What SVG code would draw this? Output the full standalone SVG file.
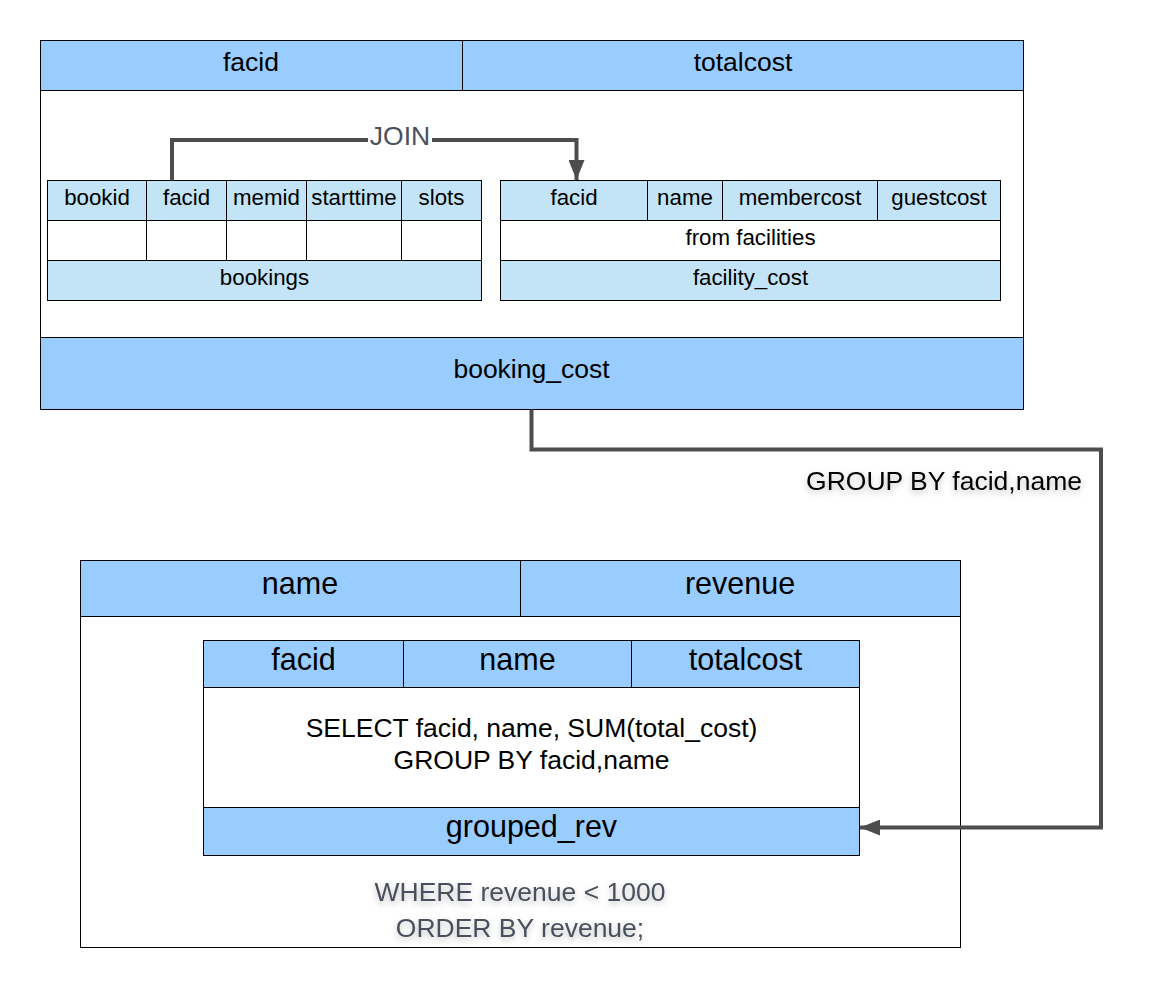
<svg xmlns="http://www.w3.org/2000/svg" width="1149" height="987" viewBox="0 0 1149 987">
<defs>
<style>
.t{font-family:"Liberation Sans",Arial,sans-serif;fill:#000;text-anchor:middle}
.s22{font-size:22.3px}.s26{font-size:26.5px}.s30{font-size:30.5px}
.hdr{fill:#99ccff;stroke:#000;stroke-width:1}
.lt{fill:#c3e4f6;stroke:#000;stroke-width:1}
.wh{fill:#fff;stroke:#000;stroke-width:1}
.ln{stroke:#000;stroke-width:1;fill:none}
.conn{fill:none;stroke:#4d4d4d;stroke-width:4}
.lbl{fill:#4a505c}
</style>
<marker id="arr" viewBox="0 0 20 16" refX="20" refY="8" markerWidth="20" markerHeight="16" markerUnits="userSpaceOnUse" orient="auto">
<path d="M0,0 L20,8 L0,16 Z" fill="#4d4d4d"/>
</marker>
<filter id="sh" x="-10%" y="-40%" width="120%" height="200%">
<feDropShadow dx="0" dy="3" stdDeviation="3" flood-color="#000" flood-opacity="0.25"/>
</filter>
</defs>
<rect width="1149" height="987" fill="#fff"/>

<g id="booking_cost">
<rect class="wh" x="40.5" y="40.5" width="983" height="369"/>
<rect class="hdr" x="40.5" y="40.5" width="983" height="50"/>
<line class="ln" x1="462.5" y1="40.5" x2="462.5" y2="90.5"/>
<rect class="hdr" x="40.5" y="337.5" width="983" height="72"/>
<text class="t s26" x="251" y="71">facid</text>
<text class="t s26" x="743" y="71">totalcost</text>
<text class="t s26" x="531.5" y="378">booking_cost</text>
</g>

<g id="bookings">
<rect class="lt" x="47.5" y="180.5" width="434" height="40"/>
<rect class="wh" x="47.5" y="220.5" width="434" height="40"/>
<rect class="lt" x="47.5" y="260.5" width="434" height="40"/>
<line class="ln" x1="146.5" y1="180.5" x2="146.5" y2="260.5"/>
<line class="ln" x1="226.5" y1="180.5" x2="226.5" y2="260.5"/>
<line class="ln" x1="306.5" y1="180.5" x2="306.5" y2="260.5"/>
<line class="ln" x1="401.5" y1="180.5" x2="401.5" y2="260.5"/>
<text class="t s22" x="97" y="205">bookid</text>
<text class="t s22" x="186.5" y="205">facid</text>
<text class="t s22" x="266.5" y="205">memid</text>
<text class="t s22" x="354" y="205">starttime</text>
<text class="t s22" x="441.5" y="205">slots</text>
<text class="t s22" x="264.5" y="285">bookings</text>
</g>

<g id="facility_cost">
<rect class="lt" x="500.5" y="180.5" width="500" height="40"/>
<rect class="wh" x="500.5" y="220.5" width="500" height="40"/>
<rect class="lt" x="500.5" y="260.5" width="500" height="40"/>
<line class="ln" x1="647.5" y1="180.5" x2="647.5" y2="220.5"/>
<line class="ln" x1="722.5" y1="180.5" x2="722.5" y2="220.5"/>
<line class="ln" x1="877.5" y1="180.5" x2="877.5" y2="220.5"/>
<text class="t s22" x="574" y="205">facid</text>
<text class="t s22" x="685" y="205">name</text>
<text class="t s22" x="800" y="205">membercost</text>
<text class="t s22" x="939" y="205">guestcost</text>
<text class="t s22" x="750.5" y="245">from facilities</text>
<text class="t s22" x="750.5" y="285">facility_cost</text>
</g>

<g id="result">
<rect class="wh" x="80.5" y="560.5" width="880" height="387"/>
<rect class="hdr" x="80.5" y="560.5" width="880" height="56"/>
<line class="ln" x1="520.5" y1="560.5" x2="520.5" y2="616.5"/>
<text class="t s30" x="300" y="594">name</text>
<text class="t s30" x="740" y="594">revenue</text>
<text class="t s26 lbl" x="520" y="901" filter="url(#sh)">WHERE revenue &lt; 1000</text>
<text class="t s26 lbl" x="520" y="937" filter="url(#sh)">ORDER BY revenue;</text>
</g>

<g id="grouped_rev">
<rect class="wh" x="203.5" y="640.5" width="656" height="215"/>
<rect class="hdr" x="203.5" y="640.5" width="656" height="47"/>
<line class="ln" x1="403.5" y1="640.5" x2="403.5" y2="687.5"/>
<line class="ln" x1="631.5" y1="640.5" x2="631.5" y2="687.5"/>
<rect class="hdr" x="203.5" y="807.5" width="656" height="48"/>
<text class="t s30" x="303.5" y="670">facid</text>
<text class="t s30" x="517.5" y="670">name</text>
<text class="t s30" x="745.5" y="670">totalcost</text>
<text class="t s26" x="531.5" y="737">SELECT facid, name, SUM(total_cost)</text>
<text class="t s26" x="531.5" y="769">GROUP BY facid,name</text>
<text class="t s30" x="531.5" y="837">grouped_rev</text>
</g>

<g id="connectors">
<path class="conn" d="M172,180.5 V140 H576.5 V180" marker-end="url(#arr)"/>
<rect x="368" y="122" width="64" height="30" fill="#fff"/>
<text class="t s26 lbl" x="400" y="145">JOIN</text>
<path class="conn" d="M531.5,409.5 V449.5 H1101 V827.5 H860" marker-end="url(#arr)"/>
<text class="t s26" x="944" y="490" fill="#222" filter="url(#sh)">GROUP BY facid,name</text>
</g>
</svg>
